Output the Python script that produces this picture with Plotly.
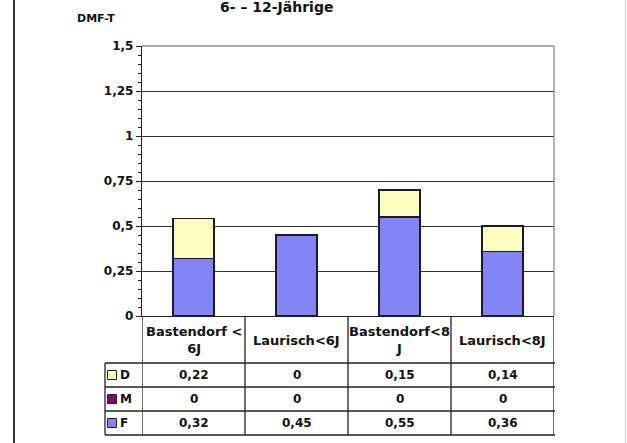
import plotly.graph_objects as go

title = "6- – 12-Jährige"
y_title = "DMF-T"
categories = ["Bastendorf <<br>6J", "Laurisch<6J", "Bastendorf<8<br>J", "Laurisch<8J"]
series_names = ["D", "M", "F"]          # table row order (top to bottom)
D = [0.22, 0, 0.15, 0.14]
M = [0, 0, 0, 0]
F = [0.32, 0.45, 0.55, 0.36]
y_range = [0, 1.5]
y_step = 0.25

colors = {"F": "#8385f6", "M": "#80067f", "D": "#fdfdc0"}
values = {"D": D, "M": M, "F": F}
FONT = "DejaVu Sans, Liberation Sans, Arial, sans-serif"

def de(v):
    if v == 0:
        return "0"
    return f"{v:.2f}".rstrip("0").rstrip(".").replace(".", ",")

xpos = list(range(len(categories)))

fig = go.Figure()
for name in ["F", "M", "D"]:
    fig.add_trace(go.Bar(
        x=xpos, y=values[name], name=name, width=0.4,
        marker=dict(color=colors[name], line=dict(color="#1a1a2a", width=1.3)),
        showlegend=False, hoverinfo="skip"))

W, H = 627, 443
L, R, T, B = 142, 73, 46, 127
pw, ph = W - L - R, H - T - B

def py(pix):  # pixel y -> paper
    return (H - B - pix) / ph

def px(pix):  # pixel x -> paper
    return (pix - L) / pw

shapes = []
line_c = "#222222"
# table horizontal lines
for yy in [363, 387, 411, 435]:
    shapes.append(dict(type="line", xref="paper", yref="paper", x0=px(105), x1=px(555),
                       y0=py(yy), y1=py(yy), line=dict(color=line_c, width=1.3)))
# table vertical lines
for i in range(len(categories) + 1):
    shapes.append(dict(type="line", xref="x", yref="paper", x0=i - 0.5, x1=i - 0.5,
                       y0=py(316), y1=py(435), line=dict(color=line_c, width=1.3)))
shapes.append(dict(type="line", xref="paper", yref="paper", x0=px(105), x1=px(105),
                   y0=py(363), y1=py(435), line=dict(color=line_c, width=1.3)))
# plot-area top and right border (gray)
shapes.append(dict(type="line", xref="paper", yref="paper", x0=0, x1=1, y0=1, y1=1,
                   line=dict(color="#8a9090", width=1.3)))
shapes.append(dict(type="line", xref="paper", yref="paper", x0=1, x1=1, y0=0, y1=1,
                   line=dict(color="#8a9090", width=1.3)))
# outer frame lines
shapes.append(dict(type="line", xref="paper", yref="paper", x0=px(14), x1=px(14),
                   y0=py(0), y1=py(443), line=dict(color="#333333", width=2)))
shapes.append(dict(type="line", xref="paper", yref="paper", x0=px(625.5), x1=px(625.5),
                   y0=py(0), y1=py(443), line=dict(color="#dddddd", width=1.5)))

annotations = []
# title and y title
annotations.append(dict(text=title, xref="paper", yref="paper", x=px(276), y=py(7),
                        showarrow=False, font=dict(size=14, family=FONT, color="#111", weight="bold"),
                        xanchor="center", yanchor="middle"))
annotations.append(dict(text=y_title, xref="paper", yref="paper", x=px(96), y=py(19),
                        showarrow=False, font=dict(size=11, family=FONT, color="#111", weight="bold"),
                        xanchor="center", yanchor="middle"))
# header cells
for i, c in enumerate(categories):
    annotations.append(dict(text=c, xref="x", yref="paper", x=i, y=py(340),
                            showarrow=False, font=dict(size=13, family=FONT, color="#111", weight="bold"),
                            xanchor="center", yanchor="middle"))
# value rows
row_centers = {"D": 375, "M": 399, "F": 423}
for name in series_names:
    yc = row_centers[name]
    annotations.append(dict(text=name, xref="paper", yref="paper", x=px(118), y=py(yc),
                            showarrow=False, font=dict(size=12, family=FONT, color="#111", weight="bold"),
                            xanchor="left", yanchor="middle"))
    shapes.append(dict(type="rect", xref="paper", yref="paper", x0=px(107.5), x1=px(116.5),
                       y0=py(yc - 4.5), y1=py(yc + 4.5), fillcolor=colors[name],
                       line=dict(color="#222", width=1)))
    for i, v in enumerate(values[name]):
        annotations.append(dict(text=de(v), xref="x", yref="paper", x=i, y=py(yc),
                                showarrow=False, font=dict(size=12, family=FONT, color="#111", weight="bold"),
                                xanchor="center", yanchor="middle"))

fig.update_layout(
    width=W, height=H, margin=dict(l=L, r=R, t=T, b=B, pad=0),
    paper_bgcolor="white", plot_bgcolor="white",
    barmode="stack", separators=",.",
    font=dict(family=FONT, color="#111"),
    shapes=shapes, annotations=annotations,
    xaxis=dict(range=[-0.5, len(categories) - 0.5], showticklabels=False, showgrid=False,
               zeroline=False, showline=True, linecolor=line_c, linewidth=1.3, ticks=""),
    yaxis=dict(range=y_range, tickmode="linear", tick0=0, dtick=y_step,
               showgrid=True, gridcolor="#333333", gridwidth=1.3,
               zeroline=False, showline=True, linecolor=line_c, linewidth=1.3,
               ticks="outside", ticklen=5, tickcolor=line_c, tickwidth=1.2,
               tickfont=dict(size=12, family=FONT, color="#111", weight="bold"),
               minor=dict(dtick=y_step / 5, ticks="outside", ticklen=3, tickcolor=line_c,
                          showgrid=False)),
)

fig.write_html("out.html", config={"displayModeBar": False},
               post_script="document.body.style.margin='0px';")
